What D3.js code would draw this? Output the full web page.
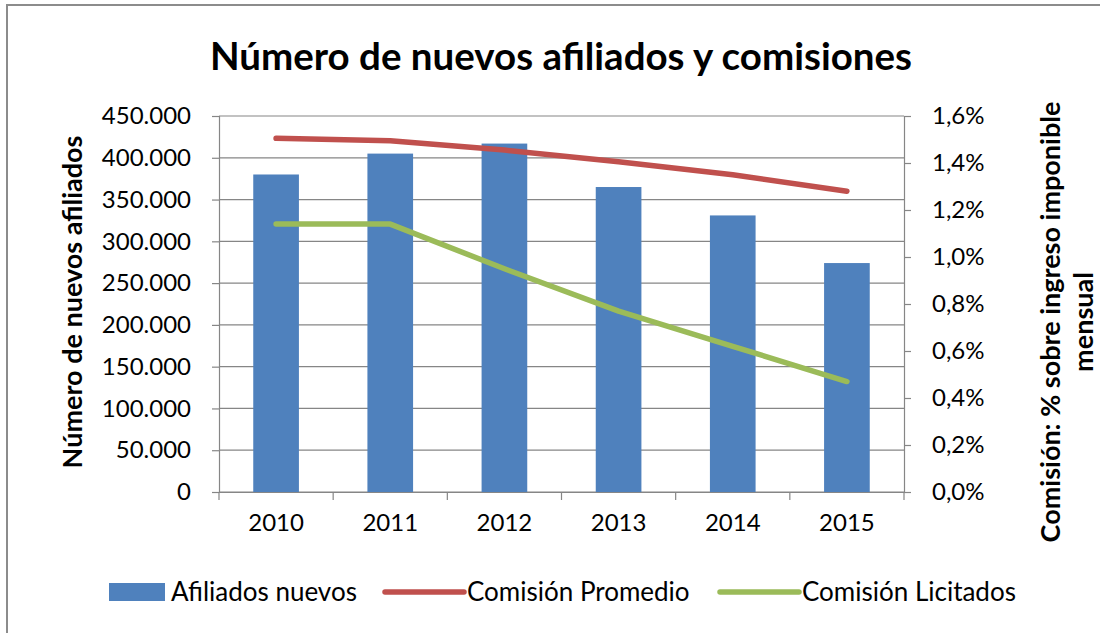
<html>
<title>Número de nuevos afiliados y comisiones</title>
<script src="https://d3js.org/d3.v7.min.js"></script>
<style>
  body { margin: 0; background: #fff; }
  text { font-family: Lato, "DejaVu Sans", sans-serif; fill: #000; }
</style>
<body>
<div id="chart"></div>
<script>
var years = ["2010", "2011", "2012", "2013", "2014", "2015"];
var afiliados = [380000, 405000, 417000, 365000, 331000, 274000];
var comisionPromedio = [1.505, 1.495, 1.455, 1.405, 1.35, 1.28];
var comisionLicitados = [1.14, 1.14, 0.95, 0.77, 0.62, 0.47];
var leftTicks = [0, 50000, 100000, 150000, 200000, 250000, 300000, 350000, 400000, 450000];
var rightTicks = [0, 0.2, 0.4, 0.6, 0.8, 1.0, 1.2, 1.4, 1.6];
var seriesNames = ["Afiliados nuevos", "Comisión Promedio", "Comisión Licitados"];

var width = 1100, height = 633;
var plotLeft = 219, plotRight = 904, plotTop = 116, plotBottom = 492;
var grid = "#868686";
var blue = "#4F81BD", red = "#C0504D", green = "#9BBB59";

var es = d3.formatLocale({decimal: ",", thousands: ".", grouping: [3], currency: ["", " €"]});

var svg = d3.select("#chart").append("svg")
    .attr("width", width)
    .attr("height", height);

// chart frame (cut off on right and bottom)
svg.append("rect")
    .attr("x", 7).attr("y", 5)
    .attr("width", 1200).attr("height", 700)
    .attr("fill", "none")
    .attr("stroke", "#8c8c8c")
    .attr("stroke-width", 2);

var xs = d3.scaleBand().domain(years).range([plotLeft, plotRight])
    .paddingInner(0.6).paddingOuter(0.3);
var yl = d3.scaleLinear().domain([0, 450000]).range([plotBottom, plotTop]);
var yr = d3.scaleLinear().domain([0, 1.6]).range([plotBottom, plotTop]);

// gridlines
svg.append("g").selectAll("line").data(leftTicks).enter().append("line")
    .attr("x1", plotLeft).attr("x2", plotRight)
    .attr("y1", function(d) { return yl(d); })
    .attr("y2", function(d) { return yl(d); })
    .attr("stroke", grid).attr("stroke-width", 1.2);

// bars
svg.append("g").selectAll("rect").data(afiliados).enter().append("rect")
    .attr("x", function(d, i) { return xs(years[i]); })
    .attr("y", function(d) { return yl(d); })
    .attr("width", xs.bandwidth())
    .attr("height", function(d) { return plotBottom - yl(d); })
    .attr("fill", blue);

// axes
var leftAxis = svg.append("g")
    .attr("transform", "translate(" + plotLeft + ",0)")
    .call(d3.axisLeft(yl).tickValues(leftTicks).tickSize(7).tickPadding(21)
        .tickFormat(function(d) { return es.format(",")(d); }));

var rightAxis = svg.append("g")
    .attr("transform", "translate(" + plotRight + ",0)")
    .call(d3.axisRight(yr).tickValues(rightTicks).tickSize(7).tickPadding(21)
        .tickFormat(function(d) { return es.format(".1f")(d) + "%"; }));

var bottomAxis = svg.append("g")
    .attr("transform", "translate(0," + plotBottom + ")")
    .call(d3.axisBottom(xs).tickSize(0).tickPadding(31));

[leftAxis, rightAxis, bottomAxis].forEach(function(a) {
    a.selectAll("path.domain").attr("stroke", grid).attr("stroke-width", 1.2);
    a.selectAll(".tick line").attr("stroke", grid).attr("stroke-width", 1.2);
    a.selectAll("text").style("font-size", "24px").attr("fill", "#000");
});
bottomAxis.selectAll("text").attr("dy", "0.32em");

// tick marks between categories
var sep = d3.range(years.length + 1).map(function(i) { return plotLeft + i * xs.step(); });
svg.append("g").selectAll("line").data(sep).enter().append("line")
    .attr("x1", function(d) { return d; }).attr("x2", function(d) { return d; })
    .attr("y1", plotBottom).attr("y2", plotBottom + 8)
    .attr("stroke", grid).attr("stroke-width", 1.2);

// lines
var cx = function(d, i) { return xs(years[i]) + xs.bandwidth() / 2; };
var line = d3.line().x(cx).y(function(d) { return yr(d); });

svg.append("path").datum(comisionPromedio)
    .attr("d", line).attr("fill", "none")
    .attr("stroke", red).attr("stroke-width", 5.5)
    .attr("stroke-linecap", "round").attr("stroke-linejoin", "round");

svg.append("path").datum(comisionLicitados)
    .attr("d", line).attr("fill", "none")
    .attr("stroke", green).attr("stroke-width", 5.5)
    .attr("stroke-linecap", "round").attr("stroke-linejoin", "round");

// titles
svg.append("text")
    .attr("x", 561).attr("y", 70)
    .attr("text-anchor", "middle")
    .attr("font-weight", "bold")
    .style("font-size", "38.5px")
    .text("Número de nuevos afiliados y comisiones");

svg.append("text")
    .attr("transform", "translate(82,302)rotate(-90)")
    .attr("text-anchor", "middle")
    .attr("font-weight", "bold")
    .style("font-size", "27px")
    .text("Número de nuevos afiliados");

svg.append("text")
    .attr("transform", "translate(1060,322)rotate(-90)")
    .attr("text-anchor", "middle")
    .attr("font-weight", "bold")
    .style("font-size", "27px")
    .text("Comisión: % sobre ingreso imponible");

svg.append("text")
    .attr("transform", "translate(1093,322)rotate(-90)")
    .attr("text-anchor", "middle")
    .attr("font-weight", "bold")
    .style("font-size", "27px")
    .text("mensual");

// legend
var legend = svg.append("g").attr("transform", "translate(0,592)");
legend.append("rect")
    .attr("x", 109).attr("y", -9).attr("width", 56).attr("height", 18)
    .attr("fill", blue);
legend.append("line")
    .attr("x1", 385).attr("x2", 464).attr("y1", 0).attr("y2", 0)
    .attr("stroke", red).attr("stroke-width", 5.5).attr("stroke-linecap", "round");
legend.append("line")
    .attr("x1", 720).attr("x2", 799).attr("y1", 0).attr("y2", 0)
    .attr("stroke", green).attr("stroke-width", 5.5).attr("stroke-linecap", "round");
var legendX = [171, 467, 802];
legend.selectAll("text.lg").data(seriesNames).enter().append("text")
    .attr("class", "lg")
    .attr("x", function(d, i) { return legendX[i]; })
    .attr("y", 0).attr("dy", "0.36em")
    .style("font-size", "26px")
    .text(function(d) { return d; });
</script>
</body>
</html>
